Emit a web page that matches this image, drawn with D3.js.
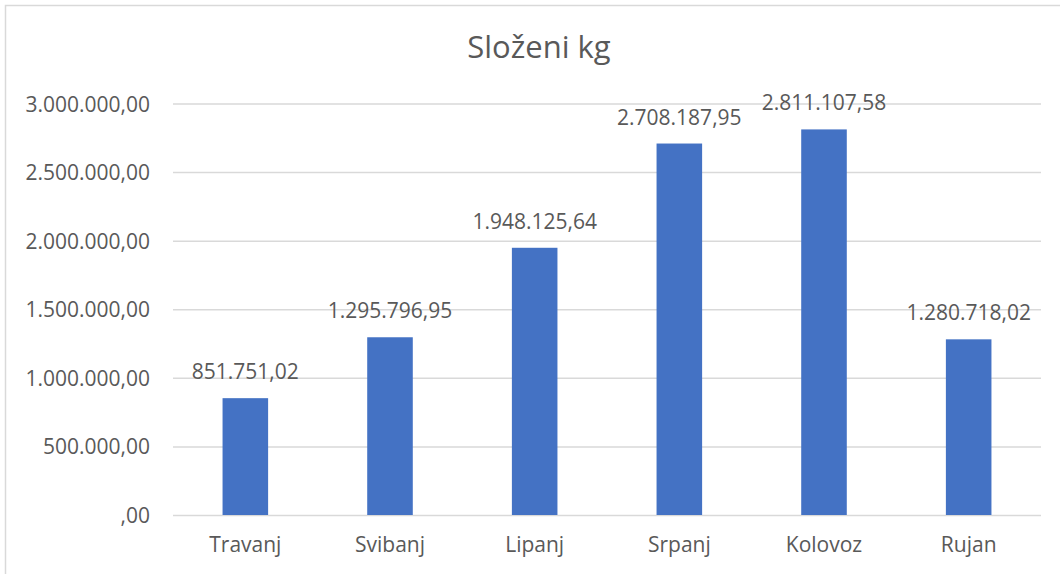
<!DOCTYPE html>
<html>
<head>
<meta charset="utf-8">
<script src="https://cdn.jsdelivr.net/npm/d3@7"></script>
<style>
  body { margin: 0; background: #fff; }
  text { font-family: "Open Sans", sans-serif; fill: #595959; }
</style>
</head>
<body>
<div id="chart"></div>
<script>
// data
var months = ["Travanj", "Svibanj", "Lipanj", "Srpanj", "Kolovoz", "Rujan"];
var values = [851751.02, 1295796.95, 1948125.64, 2708187.95, 2811107.58, 1280718.02];
var yTicks = [0, 500000, 1000000, 1500000, 2000000, 2500000, 3000000];

var width = 1060,
  height = 574;

var hr = d3.formatLocale({ decimal: ",", thousands: ".", grouping: [3], currency: ["", " kn"] });
var fmt = hr.format(",.2f");
function tickFmt(v) {
  return v === 0 ? ",00" : fmt(v);
}

var svg = d3.select("#chart")
  .append("svg")
  .attr("width", width)
  .attr("height", height);

// chart frame (runs past the right/bottom edges)
svg.append("rect")
  .attr("x", 5.5)
  .attr("y", 5.5)
  .attr("width", width + 20)
  .attr("height", height + 20)
  .attr("fill", "none")
  .attr("stroke", "#d9d9d9")
  .attr("stroke-width", 1.5);

var plotLeft = 173, plotRight = 1041, plotTop = 103.5, plotBottom = 515;

var x = d3.scaleBand()
  .domain(months)
  .range([plotLeft, plotRight])
  .paddingInner(0.685)
  .paddingOuter(0.3425);

var y = d3.scaleLinear()
  .domain([0, 3000000])
  .range([plotBottom, plotTop]);

// gridlines + y labels
var yAxis = d3.axisLeft(y)
  .tickValues(yTicks)
  .tickSize(-(plotRight - plotLeft))
  .tickPadding(23)
  .tickFormat(tickFmt);

var gy = svg.append("g")
  .attr("transform", `translate(${plotLeft},0)`)
  .call(yAxis);
gy.select(".domain").remove();
gy.selectAll(".tick line")
  .attr("stroke", "#d9d9d9")
  .attr("stroke-width", 1.5);
gy.selectAll(".tick text")
  .attr("font-size", 21)
  .attr("font-family", "Open Sans, sans-serif")
  .attr("fill", "#595959")
  .attr("dy", "0.36em");

// bars
svg.append("g")
  .selectAll("rect")
  .data(values)
  .enter()
  .append("rect")
  .attr("x", (d, i) => x(months[i]))
  .attr("y", d => y(d))
  .attr("width", x.bandwidth())
  .attr("height", d => plotBottom - y(d))
  .attr("fill", "#4472c4");

// data labels
svg.append("g")
  .selectAll("text")
  .data(values)
  .enter()
  .append("text")
  .attr("x", (d, i) => x(months[i]) + x.bandwidth() / 2)
  .attr("y", d => y(d) - 19)
  .attr("text-anchor", "middle")
  .attr("font-size", 21)
  .text(d => fmt(d));

// x labels
var xAxis = d3.axisBottom(x).tickSize(0).tickPadding(22);
var gx = svg.append("g")
  .attr("transform", `translate(0,${plotBottom})`)
  .call(xAxis);
gx.select(".domain").remove();
gx.selectAll(".tick text")
  .attr("font-size", 21)
  .attr("font-family", "Open Sans, sans-serif")
  .attr("fill", "#595959");

// title
svg.append("text")
  .attr("x", 539)
  .attr("y", 58)
  .attr("text-anchor", "middle")
  .attr("font-size", 31)
  .text("Složeni kg");
</script>
</body>
</html>
